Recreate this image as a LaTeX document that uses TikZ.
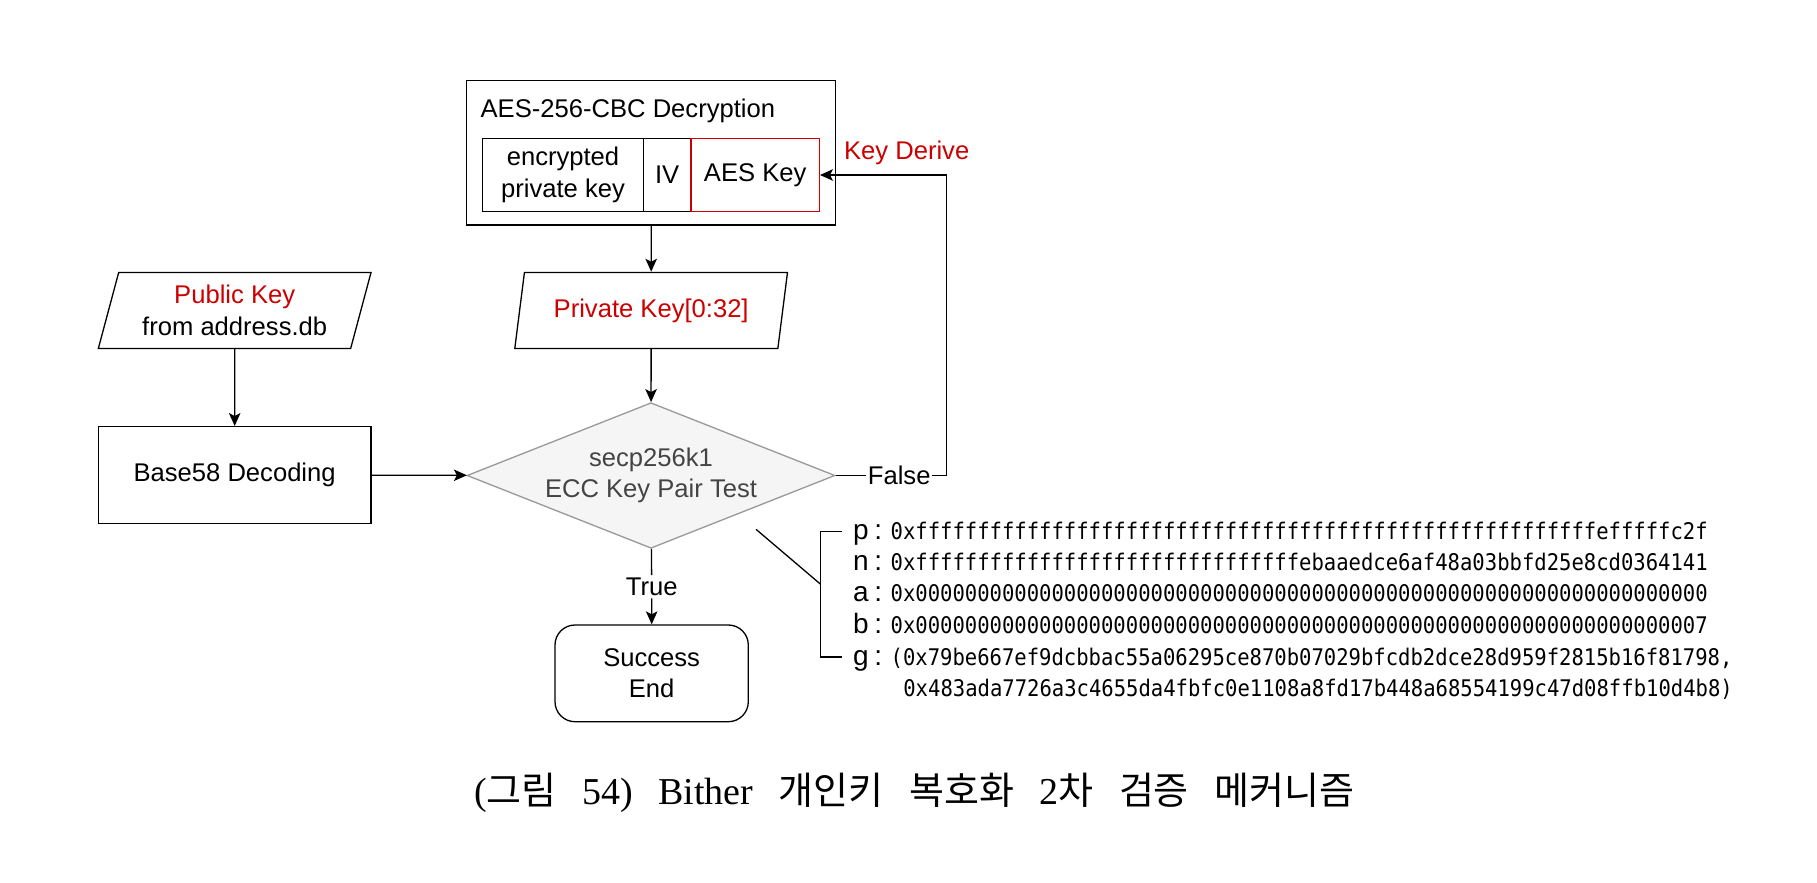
\documentclass[tikz,border=0pt]{standalone}
\usepackage{fontspec}
\setmainfont{Liberation Sans}
\newfontfamily\capfont{Liberation Serif}
\newfontfamily\krfont{Noto Sans CJK KR}
\newfontfamily\hexfont{DejaVu Sans Mono}[FakeStretch=0.898]
\usetikzlibrary{shapes.geometric,arrows.meta}
\definecolor{keyred}{HTML}{CC0000}
\definecolor{diagray}{HTML}{999999}
\definecolor{diafill}{HTML}{F5F5F5}
\definecolor{diatext}{HTML}{444444}
\newcommand{\kgap}{\hspace{25.5pt}}

\begin{document}
\begin{tikzpicture}[x=1pt, y=1pt, line width=1.3pt,
  every node/.style = {font=\fontsize{25.6}{31.6}\selectfont},
  box/.style = {draw, align=center, inner sep=0pt},
  io/.style = {draw, trapezium, trapezium left angle=68, trapezium right angle=112, trapezium stretches body=true, minimum width=272.7pt, minimum height=76pt, inner sep=0pt, align=center},
  decision/.style = {diamond, draw=diagray, fill=diafill, text=diatext, aspect=2.53, inner sep=0pt, minimum width=368pt, minimum height=145.6pt, align=center},
  param/.style = {anchor=base, inner sep=0pt, font=\fontsize{28}{28}\selectfont},
  hex/.style = {anchor=base west, inner sep=0pt, font=\hexfont\fontsize{22.9}{22.9}\selectfont}]
\useasboundingbox (0, 0) rectangle (1817, -883);

% decryption block
\node[box, minimum width=369pt, minimum height=144.3pt] (aes) at (651.2, -152.85) {};
\node[anchor=base west, inner sep=0pt] (aestitle) at (480, -117.3) {AES-256-CBC Decryption};
\node[box, minimum width=160.6pt, minimum height=73.4pt] (enckey) at (563, -175) {encrypted\\private key};
\node[box, minimum width=47.7pt, minimum height=73.4pt] (iv) at (667.15, -175) {IV};
\node[box, draw=keyred, minimum width=128.3pt, minimum height=73.4pt] (aeskey) at (755.15, -175) {AES Key};
\node[text=keyred] (keyderive) at (906.7, -153.3) {Key Derive};

% flow
\node[io] (pubkey) at (234.7, -310.4) {\textcolor{keyred}{Public Key}\\from address.db};
\node[io, text=keyred] (privkey) at (651.15, -310.4) {Private Key[0:32]};
\node[box, minimum width=272.7pt, minimum height=96.6pt] (base58) at (234.65, -475) {Base58 Decoding};
\node[decision] (test) at (651, -475.5) {secp256k1\\ECC Key Pair Test};
\node[inner sep=2pt] (truelbl) at (651.7, -586.7) {True};
\node[inner sep=1pt] (falselbl) at (899.2, -475.5) {False};
\node[box, rounded corners=20pt, minimum width=193.3pt, minimum height=96.7pt] (success) at (651.65, -673.35) {Success\\End};
\coordinate (loopcorner) at (946.7, -475.5);

% curve parameters
\node[param] (lblp) at (861, -539) {p};
\node[param] (colp) at (878.3, -539) {:};
\node[hex] (hexp) at (890, -539) {0x{ffffffff}{ffffffff}{ffffffff}{ffffffff}{ffffffff}{ffffffff}{fffffffe}{fffffc2f}};
\node[param] (lbln) at (861, -570.3) {n};
\node[param] (coln) at (878.3, -570.3) {:};
\node[hex] (hexn) at (890, -570.3) {0x{ffffffff}{ffffffff}{ffffffff}{fffffffe}{baaedce6}{af48a03b}{bfd25e8c}{d0364141}};
\node[param] (lbla) at (861, -601.8) {a};
\node[param] (cola) at (878.3, -601.8) {:};
\node[hex] (hexa) at (890, -601.8) {0x{00000000}{00000000}{00000000}{00000000}{00000000}{00000000}{00000000}{00000000}};
\node[param] (lblb) at (861, -633.3) {b};
\node[param] (colb) at (878.3, -633.3) {:};
\node[hex] (hexb) at (890, -633.3) {0x{00000000}{00000000}{00000000}{00000000}{00000000}{00000000}{00000000}{00000007}};
\node[param] (lblg) at (861, -665) {g};
\node[param] (colg) at (878.3, -665) {:};
\node[hex] (hexg) at (890, -665) {(0x{79be667e}{f9dcbbac}{55a06295}{ce870b07}{029bfcdb}{2dce28d9}{59f2815b}{16f81798},};
\node[hex] (hexgy) at (902.7, -696.6) {0x{483ada77}{26a3c465}{5da4fbfc}{0e1108a8}{fd17b448}{a6855419}{9c47d08f}{fb10d4b8})};
\coordinate (callout) at (756, -529.3);
\coordinate (brmid) at (820.3, -584);
\coordinate (brtop) at (841.7, -531.5);
\coordinate (brbot) at (841.7, -657);

\node[font=\fontsize{38}{42}\selectfont] (caption) at (914.2, -793) {\capfont (\krfont 그림\kgap\capfont 54)\kgap Bither\kgap\krfont 개인키\kgap 복호화\kgap\capfont 2\krfont 차\kgap 검증\kgap 메커니즘};

\begin{scope}[-{Stealth[length=13pt, width=11.5pt, inset=3pt]}]
\path [color=black] (aes) edge (privkey);
\path [color=black] (pubkey) edge (base58);
\path [color=black] (privkey) edge (test);
\path [color=black] (base58) edge (test);
\path [color=black] (truelbl) edge (success);
\draw [color=black] (falselbl) -- (loopcorner) |- (aeskey);
\end{scope}
\path [color=black] (test) edge (truelbl);
\path [color=black] (test) edge (falselbl);
\draw (callout) -- (brmid);
\draw (brtop) -| (brmid) |- (brbot);
\end{tikzpicture}
\end{document}
